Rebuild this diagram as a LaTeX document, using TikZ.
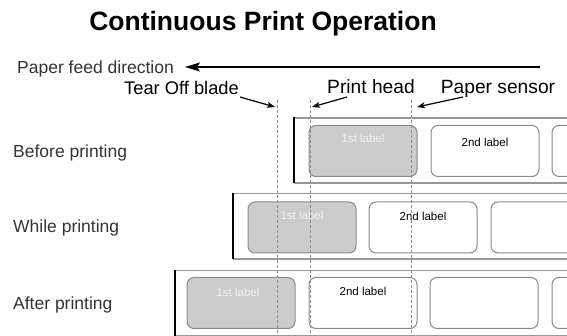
\documentclass[tikz,border=0pt]{standalone}
\usepackage{fontspec}
\setmainfont{Liberation Sans}
\usetikzlibrary{arrows.meta}
\definecolor{lbdr}{HTML}{8A8A8A}
\definecolor{lbfill}{HTML}{CCCCCC}
\definecolor{stripc}{HTML}{999999}
\definecolor{guidec}{HTML}{8C8C8C}
\definecolor{txtc}{HTML}{333333}
\definecolor{paletxt}{HTML}{F2F2F2}
\begin{document}
\begin{tikzpicture}[x=1pt,y=1pt,
  lab/.style={rectangle, rounded corners=7pt, draw=lbdr, line width=1pt,
    minimum width=108pt, minimum height=51pt, inner sep=0pt, fill=white},
  used/.style={lab, fill=lbfill},
  ltext/.style={font=\fontsize{11.5}{13}\selectfont, anchor=base, inner sep=0pt},
  rowtxt/.style={font=\fontsize{17.5}{20}\selectfont, text=txtc, anchor=base west, inner sep=0pt},
  parttxt/.style={font=\fontsize{19.2}{22}\selectfont, anchor=base, inner sep=0pt},
  ptr/.style={-{Stealth[length=8pt,width=6pt,inset=2pt]}, line width=1.2pt},
  feedarrow/.style={-{Stealth[length=15pt,width=9pt,inset=3pt]}, line width=1.3pt},
  guide/.style={draw=guidec, line width=0.8pt, dash pattern=on 3pt off 2pt},
  strip/.style={draw=stripc, line width=1.1pt},
  stripedge/.style={draw=black, line width=1.6pt}
]
\useasboundingbox (0,0) rectangle (567,336);

% title
\node[font=\fontsize{26.5}{30}\selectfont\bfseries, anchor=base, inner sep=0pt] (title) at (263,305) {Continuous Print Operation};

% paper feed
\node[rowtxt] (feed) at (17,262) {Paper feed direction};
\coordinate (feedstart) at (540,269);
\coordinate (feedtip) at (185,269);
\draw[feedarrow] (feedstart) -- (feedtip);

% row labels
\node[rowtxt] (before) at (13,178) {Before printing};
\node[rowtxt] (while) at (13,103) {While printing};
\node[rowtxt] (after) at (13,26) {After printing};

\begin{scope}
\clip (0,0) rectangle (567,336);
% strips
\draw[strip] (294,218) -- (580,218);
\draw[strip] (294,153) -- (580,153);
\draw[stripedge] (294,218.5) -- (294,152.5);
\draw[strip] (233,142.5) -- (580,142.5);
\draw[strip] (233,77) -- (580,77);
\draw[stripedge] (233,143) -- (233,76.5);
\draw[strip] (175,65.5) -- (580,65.5);
\draw[strip] (175,0.8) -- (580,0.8);
\draw[stripedge] (175,66) -- (175,0);

% row 1 labels
\node[used] (r1a) at (363,185) {};
\node[lab] (r1b) at (485,185) {};
\node[lab] (r1c) at (606,185) {};
% row 2 labels
\node[used] (r2a) at (302,108.5) {};
\node[lab] (r2b) at (423,108.5) {};
\node[lab] (r2c) at (545,108.5) {};
% row 3 labels
\node[used] (r3a) at (241,33) {};
\node[lab] (r3b) at (363,33) {};
\node[lab] (r3c) at (484,33) {};
\node[lab] (r3d) at (606,33) {};
\end{scope}

% label texts
\node[ltext, text=paletxt] (t1a) at ([yshift=-18pt]r1a.north) {1st label};
\node[ltext] (t1b) at ([yshift=-22pt]r1b.north) {2nd label};
\node[ltext, text=paletxt] (t2a) at ([yshift=-18pt]r2a.north) {1st label};
\node[ltext] (t2b) at ([yshift=-19pt]r2b.north) {2nd label};
\node[ltext, text=paletxt] (t3a) at ([xshift=-3pt,yshift=-20pt]r3a.north) {1st label};
\node[ltext] (t3b) at ([yshift=-19pt]r3b.north) {2nd label};

% guide lines
\coordinate (bladetop) at (277,236);
\coordinate (bladebot) at (277,0);
\coordinate (headtop) at (310,236);
\coordinate (headbot) at (310,0);
\coordinate (sensortop) at (411,236);
\coordinate (sensorbot) at (411,0);
\draw[guide] (bladetop) -- (bladebot);
\draw[guide] (headtop) -- (headbot);
\draw[guide] (sensortop) -- (sensorbot);

% part names
\node[parttxt, font=\fontsize{18.3}{21}\selectfont] (blade) at (181.5,241) {Tear Off blade};
\node[parttxt] (head) at (371,242) {Print head};
\node[parttxt] (sensor) at (498,242) {Paper sensor};

\coordinate (bladetip) at (275,229);
\coordinate (headtip) at (312,229);
\coordinate (sensortip) at (417,229);
\draw[ptr] ([xshift=1pt,yshift=-2pt]blade.base east) -- (bladetip);
\draw[ptr] ([xshift=-24pt,yshift=-3pt]head.base) -- (headtip);
\draw[ptr] ([xshift=-35pt,yshift=-3pt]sensor.base) -- (sensortip);
\end{tikzpicture}
\end{document}
